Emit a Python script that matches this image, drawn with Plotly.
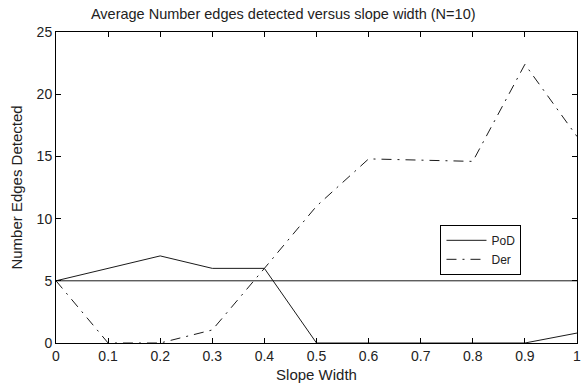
import plotly.graph_objects as go

slope_width = [0, 0.1, 0.2, 0.3, 0.4, 0.5, 0.6, 0.7, 0.8, 0.9, 1.0]
pod = [5, 6, 7, 6, 6, 0, 0, 0, 0, 0, 0.8]
der = [5, 0, 0, 1.05, 6, 11, 14.8, 14.7, 14.6, 22.4, 16.6]
ref_x = [0, 1]
ref_y = [5, 5]
x_ticks = [0, 0.1, 0.2, 0.3, 0.4, 0.5, 0.6, 0.7, 0.8, 0.9, 1]
x_tick_text = ["0", "0.1", "0.2", "0.3", "0.4", "0.5", "0.6", "0.7", "0.8", "0.9", "1"]
y_ticks = [0, 5, 10, 15, 20, 25]

font = "Liberation Sans, Arial, sans-serif"
ink = "#1a1a1a"

fig = go.Figure()
fig.add_trace(go.Scatter(x=slope_width, y=pod, mode="lines", name="PoD",
                         line=dict(color=ink, width=1)))
fig.add_trace(go.Scatter(x=slope_width, y=der, mode="lines", name="Der",
                         line=dict(color=ink, width=1, dash="10px,6px,2px,6px")))
fig.add_trace(go.Scatter(x=ref_x, y=ref_y, mode="lines", showlegend=False,
                         line=dict(color=ink, width=1)))

axis_common = dict(showline=True, linecolor="black", linewidth=1, mirror="ticks",
                   ticks="inside", ticklen=5, tickcolor="black", showgrid=False,
                   zeroline=False, ticklabeloverflow="allow",
                   tickfont=dict(size=14, color="#222", family=font))

fig.update_layout(
    width=584, height=385,
    margin=dict(l=56, r=3, t=32, b=42),
    paper_bgcolor="white", plot_bgcolor="white",
    font=dict(family=font, size=14, color="#222"),
    title=dict(text="Average Number edges detected versus slope width (N=10)",
               x=0.485, xanchor="center", y=0.978, yanchor="top",
               font=dict(size=14.5, color="#222", family=font)),
    xaxis=dict(range=[0, 1], tickvals=x_ticks, ticktext=x_tick_text,
               title=dict(text="Slope Width", standoff=6,
                          font=dict(size=15, color="#222", family=font)),
               **axis_common),
    yaxis=dict(range=[0, 25], tickvals=y_ticks,
               title=dict(text="Number Edges Detected", standoff=10,
                          font=dict(size=15, color="#222", family=font)),
               **axis_common),
    legend=dict(x=0.738, y=0.38, xanchor="left", yanchor="top",
                bgcolor="white", bordercolor="black", borderwidth=1,
                font=dict(size=12, color="#222", family=font),
                tracegroupgap=0, itemwidth=40),
    showlegend=True,
)

fig.write_html("out.html")
